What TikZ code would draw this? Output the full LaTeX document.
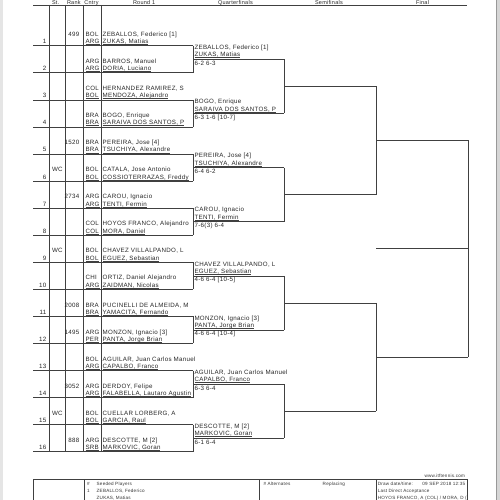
\documentclass[tikz,border=0pt]{standalone}
\usepackage{fontspec}
\setmainfont{Liberation Sans}[LetterSpace=5]
\begin{document}
\begin{tikzpicture}[x=1pt,y=-1pt,
  ln/.style={draw=black!75,line width=0.55pt},
  ul/.style={draw=black!75,line width=0.35pt},
  tx/.style={inner sep=0pt,outer sep=0pt,anchor=base west,font=\fontsize{6.2}{7}\selectfont,text=black!85},
  txr/.style={tx,anchor=base east},
  hd/.style={tx,font=\fontsize{5.5}{6}\selectfont},
  sm/.style={inner sep=0pt,outer sep=0pt,anchor=base west,font=\fontsize{4.6}{5.5}\selectfont,text=black!80},
  smr/.style={sm,anchor=base east}]
\useasboundingbox (0,0) rectangle (500,500);
\fill[black!10] (0,0) rectangle (2.7,500);
\fill[black!16] (496,0) rectangle (500,500);
\draw[black!40,line width=0.5pt] (496,0) -- (496,500);
% header
\node[hd] (hst) at (52,4.3) {St.};
\node[hd] (hrk) at (67,4.3) {Rank};
\node[hd] (hcn) at (84.3,4.3) {Cntry};
\node[hd] (hr1) at (133,4.3) {Round 1};
\node[hd] (hqf) at (218,4.3) {Quarterfinals};
\node[hd] (hsf) at (315,4.3) {Semifinals};
\node[hd] (hfi) at (416,4.3) {Final};
\coordinate (hl) at (33,4.9); \coordinate (hr) at (467,4.9);
\draw[ln] (hl) -- (hr);
% column lines
\foreach \c/\x in {1/49,2/65,3/83,4/101}{
  \coordinate (c\c t) at (\x,4.9); \coordinate (c\c b) at (\x,451.75);
  \draw[ln] (c\c t) -- (c\c b);
}
% round 1 slots
\foreach \k/\st/\rk/\ca/\na/\cb/\nb in {
 1/{}/499/BOL/{ZEBALLOS, Federico [1]}/ARG/{ZUKAS, Matias},
 2/{}/{}/ARG/{BARROS, Manuel}/ARG/{DORIA, Luciano},
 3/{}/{}/COL/{HERNANDEZ RAMIREZ, S}/BOL/{MENDOZA, Alejandro},
 4/{}/{}/BRA/{BOGO, Enrique}/BRA/{SARAIVA DOS SANTOS, P},
 5/{}/1520/BRA/{PEREIRA, Jose [4]}/BRA/{TSUCHIYA, Alexandre},
 6/WC/{}/BOL/{CATALA, Jose Antonio}/BOL/{COSSIOTERRAZAS, Freddy},
 7/{}/2734/ARG/{CAROU, Ignacio}/ARG/{TENTI, Fermin},
 8/{}/{}/COL/{HOYOS FRANCO, Alejandro}/COL/{MORA, Daniel},
 9/WC/{}/BOL/{CHAVEZ VILLALPANDO, L}/BOL/{EGUEZ, Sebastian},
 10/{}/{}/CHI/{ORTIZ, Daniel Alejandro}/ARG/{ZAIDMAN, Nicolas},
 11/{}/2008/BRA/{PUCINELLI DE ALMEIDA, M}/BRA/{YAMACITA, Fernando},
 12/{}/1495/ARG/{MONZON, Ignacio [3]}/PER/{PANTA, Jorge Brian},
 13/{}/{}/BOL/{AGUILAR, Juan Carlos Manuel}/ARG/{CAPALBO, Franco},
 14/{}/3052/ARG/{DERDOY, Felipe}/ARG/{FALABELLA, Lautaro Agustin},
 15/WC/{}/BOL/{CUELLAR LORBERG, A}/BOL/{GARCIA, Raul},
 16/{}/888/ARG/{DESCOTTE, M [2]}/SRB/{MARKOVIC, Goran}}{
  \pgfmathsetmacro{\y}{45.7+(\k-1)*27.07}
  \coordinate (s\k L) at (33,\y); \coordinate (s\k R) at (193,\y);
  \draw[ln] (s\k L) -- (s\k R);
  \node[txr] (d\k) at (46.3,\y-2.0) {\k};
  \node[tx] (w\k) at (52,\y-9.4) {\st};
  \node[txr] (r\k) at (79.3,\y-9.4) {\rk};
  \node[tx] (ca\k) at (85.5,\y-9.4) {\ca};
  \node[tx] (cb\k) at (85.5,\y-2.0) {\cb};
  \node[tx] (na\k) at (102.7,\y-9.4) {\na};
  \node[tx] (nb\k) at (102.7,\y-2.0) {\nb};
  \draw[ul] ([yshift=-0.7pt]cb\k.base west) -- ([yshift=-0.7pt]cb\k.base east);
  \draw[ul] ([yshift=-0.7pt]nb\k.base west) -- ([yshift=-0.7pt]nb\k.base east);
}
% round 1 brackets and quarterfinal entries
\foreach \i/\wa/\wb/\sc in {
 1/{ZEBALLOS, Federico [1]}/{ZUKAS, Matias}/{6-2 6-3},
 2/{BOGO, Enrique}/{SARAIVA DOS SANTOS, P}/{6-3 1-6 [10-7]},
 3/{PEREIRA, Jose [4]}/{TSUCHIYA, Alexandre}/{6-4 6-2},
 4/{CAROU, Ignacio}/{TENTI, Fermin}/{7-6(3) 6-4},
 5/{CHAVEZ VILLALPANDO, L}/{EGUEZ, Sebastian}/{4-6 6-4 [10-5]},
 6/{MONZON, Ignacio [3]}/{PANTA, Jorge Brian}/{4-6 6-4 [10-4]},
 7/{AGUILAR, Juan Carlos Manuel}/{CAPALBO, Franco}/{6-3 6-4},
 8/{DESCOTTE, M [2]}/{MARKOVIC, Goran}/{6-1 6-4}}{
  \pgfmathtruncatemacro{\a}{2*\i-1}
  \pgfmathtruncatemacro{\b}{2*\i}
  \pgfmathsetmacro{\ym}{45.7+(2*\i-1.5)*27.07}
  \draw[ln] (s\a R) -- (s\b R);
  \coordinate (m\i) at (193,\ym); \coordinate (q\i) at (284,\ym);
  \draw[ln] (m\i) -- (q\i);
  \node[tx] (qa\i) at (194.5,\ym-9.7) {\wa};
  \node[tx] (qb\i) at (194.5,\ym-2.3) {\wb};
  \node[tx] (qs\i) at (194.5,\ym+6.0) {\sc};
  \draw[ul] ([yshift=-0.7pt]qb\i.base west) -- ([yshift=-0.7pt]qb\i.base east);
}
% quarterfinal brackets
\foreach \j in {1,...,4}{
  \pgfmathtruncatemacro{\a}{2*\j-1}
  \pgfmathtruncatemacro{\b}{2*\j}
  \pgfmathsetmacro{\ym}{45.7+(4*\j-2.5)*27.07}
  \draw[ln] (q\a) -- (q\b);
  \coordinate (qm\j) at (284,\ym); \coordinate (sf\j) at (376,\ym);
  \draw[ln] (qm\j) -- (sf\j);
}
% semifinal brackets
\foreach \l in {1,2}{
  \pgfmathtruncatemacro{\a}{2*\l-1}
  \pgfmathtruncatemacro{\b}{2*\l}
  \pgfmathsetmacro{\ym}{45.7+(8*\l-4.5)*27.07}
  \draw[ln] (sf\a) -- (sf\b);
  \coordinate (smd\l) at (376,\ym); \coordinate (f\l) at (468,\ym);
  \draw[ln] (smd\l) -- (f\l);
}
% final bracket
\draw[ln] (f1) -- (f2);
\coordinate (fm) at (468,248.7); \coordinate (fw) at (376,248.7);
\draw[ln] (fm) -- (fw);
% footer
\node[smr] (www) at (465,477) {www.itftennis.com};
\coordinate (bt1) at (33,479.3); \coordinate (bt2) at (467,479.3);
\draw[ln] (bt1) -- (bt2);
\foreach \v/\x in {1/33,2/84,3/259,4/376,5/467}{
  \coordinate (bv\v t) at (\x,479.3); \coordinate (bv\v b) at (\x,501);
  \draw[ln] (bv\v t) -- (bv\v b);
}
\node[sm] (hsh) at (87,485.3) {\#};
\node[sm] (hsp) at (96.7,485.3) {Seeded Players};
\node[sm] (s1n) at (87,492.8) {1};
\node[sm] (s1a) at (96.7,492.8) {ZEBALLOS, Federico};
\node[sm] (s1b) at (96.7,499.3) {ZUKAS, Matias};
\node[sm] (hal) at (263.5,485.3) {\# Alternates};
\node[sm] (hrp) at (322.7,485.3) {Replacing};
\node[sm] (hdd) at (377.8,485.3) {Draw date/time:};
\node[smr] (hdv) at (465.3,485.3) {09 SEP 2018 12:35};
\node[sm] (hld) at (377.8,492.8) {Last Direct Acceptance};
\begin{scope}
\clip (376.5,479.5) rectangle (466.6,501);
\node[sm] (hlv) at (377.8,499.3) {HOYOS FRANCO, A (COL) / MORA, D (COL)};
\end{scope}
\end{tikzpicture}
\end{document}
